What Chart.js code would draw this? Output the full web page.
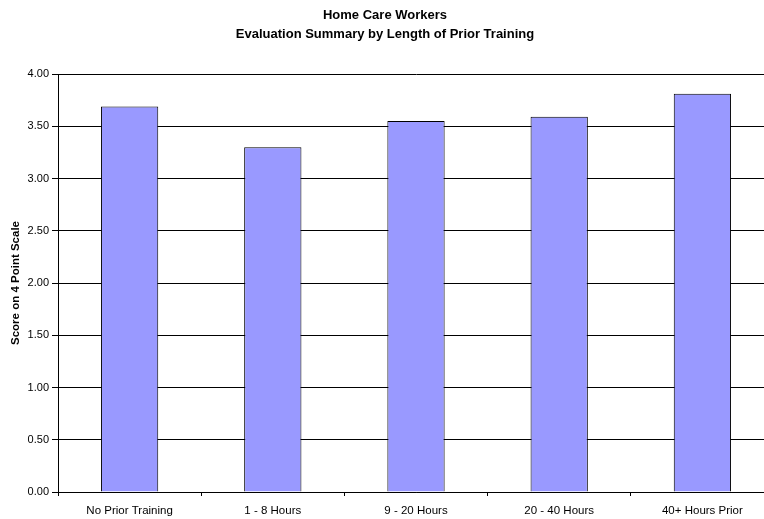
<!DOCTYPE html>
<html>
<head>
<meta charset="utf-8">
<script src="https://cdn.jsdelivr.net/npm/chart.js@4/dist/chart.umd.min.js"></script>
<style>
  html, body { margin: 0; padding: 0; background: #fff; overflow: hidden; width: 764px; height: 519px; }
  #wrap { width: 800px; height: 519px; }
</style>
</head>
<body>
<div id="wrap"><canvas id="c" width="800" height="519"></canvas></div>
<script>
// Evaluation scores per prior-training group
const categories = ['No Prior Training', '1 - 8 Hours', '9 - 20 Hours', '20 - 40 Hours', '40+ Hours Prior'];
const scores = [3.69, 3.30, 3.55, 3.59, 3.81];
const titleLines = ['Home Care Workers', 'Evaluation Summary by Length of Prior Training'];
const yAxisTitle = 'Score on 4 Point Scale';

const FONT = '"Liberation Sans", Arial, sans-serif';

// Two-line bold heading centred over the page area
const headingPlugin = {
  id: 'heading',
  afterDraw(chart) {
    const ctx = chart.ctx;
    ctx.save();
    ctx.fillStyle = '#000';
    ctx.font = 'bold 13px ' + FONT;
    ctx.textAlign = 'center';
    ctx.textBaseline = 'alphabetic';
    ctx.fillText(titleLines[0], 385, 19);
    ctx.fillText(titleLines[1], 385, 38);
    ctx.restore();
  }
};

new Chart(document.getElementById('c'), {
  type: 'bar',
  data: {
    labels: categories,
    datasets: [{
      data: scores,
      backgroundColor: '#9999FF',
      borderColor: '#000',
      borderWidth: 1,
      borderSkipped: 'bottom',
      barPercentage: 0.4,
      categoryPercentage: 1.0
    }]
  },
  options: {
    responsive: false,
    animation: false,
    layout: { padding: { top: 74, right: 26, bottom: 0, left: 0 } },
    plugins: {
      legend: { display: false },
      title: { display: false },
      tooltip: { enabled: false }
    },
    scales: {
      x: {
        offset: true,
        grid: {
          offset: true,
          drawOnChartArea: false,
          drawTicks: true,
          tickLength: 4,
          color: '#000'
        },
        border: { display: true, color: '#000', width: 1 },
        ticks: {
          color: '#000',
          font: { family: FONT, size: 11.5 },
          padding: 8,
          maxRotation: 0,
          autoSkip: false
        },
        afterFit(scale) { scale.height = 27; }
      },
      y: {
        min: 0,
        max: 4,
        ticks: {
          stepSize: 0.5,
          color: '#000',
          font: { family: FONT, size: 11 },
          padding: 3,
          callback: v => Number(v).toFixed(2)
        },
        grid: {
          color: '#000',
          lineWidth: 1,
          drawTicks: true,
          tickLength: 6
        },
        border: { display: true, color: '#000', width: 1 },
        title: {
          display: true,
          text: yAxisTitle,
          color: '#000',
          font: { family: FONT, size: 11.5, weight: 'bold' },
          padding: { top: 9, bottom: 0 }
        },
        afterFit(scale) { scale.width = 58; }
      }
    }
  },
  plugins: [headingPlugin]
});
</script>
</body>
</html>
